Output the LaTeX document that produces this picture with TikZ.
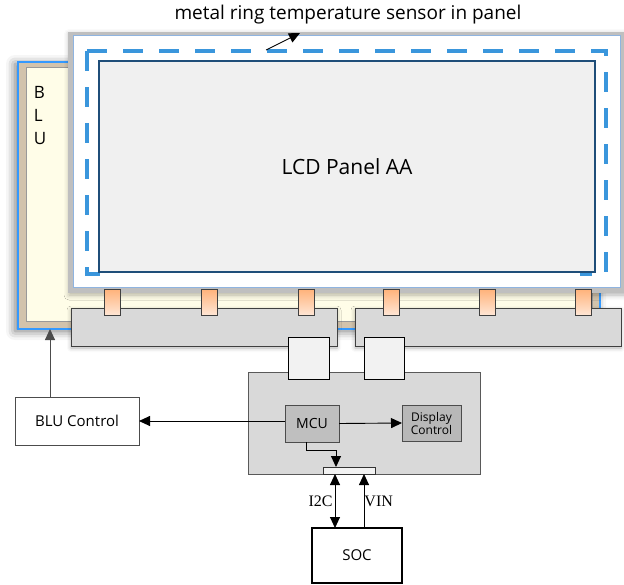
\documentclass[tikz,border=0pt]{standalone}
\usepackage{fontspec}
\setmainfont{Open Sans}
\newfontfamily\sigfont{Liberation Serif}
\usetikzlibrary{arrows.meta,positioning,shadows.blur}
\definecolor{panelgray}{HTML}{BFBFBF}
\definecolor{paneledge}{HTML}{8FB4E0}
\definecolor{ringblue}{HTML}{3A96DC}
\definecolor{navy}{HTML}{1F4E79}
\definecolor{aafill}{HTML}{F0F0F0}
\definecolor{blublue}{HTML}{3399FF}
\definecolor{blutan}{HTML}{D2C3AC}
\definecolor{blucream}{HTML}{FFFDE8}
\definecolor{bargray}{HTML}{D9D9D9}
\definecolor{bardark}{HTML}{404040}
\definecolor{pintop}{HTML}{FFB27A}
\definecolor{pinbot}{HTML}{FFE6D5}
\definecolor{sqfill}{HTML}{F2F2F2}
\definecolor{mcugray}{HTML}{BFBFBF}
\definecolor{dispgray}{HTML}{B8B8B8}

\begin{document}
\begin{tikzpicture}[x=1pt, y=-1pt,
  font=\fontsize{15}{18}\selectfont,
  plate/.style={inner sep=0pt, outer sep=0pt, anchor=north west},
  bar/.style={plate, fill=bargray, draw=bardark, line width=1pt, minimum width=266, minimum height=38},
  pin/.style={plate, draw=bardark, line width=1pt, top color=pintop, bottom color=pinbot, minimum width=16, minimum height=26},
  sock/.style={plate, fill=sqfill, draw=black, line width=1pt, minimum width=41, minimum height=42},
  blk/.style={plate, draw=black!70, line width=1pt, align=center},
  arr/.style={-{Triangle[length=11pt,width=10pt]}, line width=0.9pt},
  dbl/.style={{Triangle[length=11pt,width=10pt]}-{Triangle[length=11pt,width=10pt]}, line width=0.9pt}]
  \useasboundingbox (0,0) rectangle (624,584);
  % backlight unit
  \node[plate, draw=blublue, line width=1.5pt, fill=blutan, minimum width=582, minimum height=267,
    blur shadow={shadow xshift=-3pt, shadow yshift=-2pt, shadow blur radius=9pt, shadow opacity=55}] (blu) at (18,62) {};
  \node[plate, draw=gray!80, line width=0.8pt, fill=blucream, minimum width=566, minimum height=254] (bluin) at (26,67) {};
  \node[plate, font=\fontsize{17}{23}\selectfont, align=left] (blutxt) at (34,86) {B\\L\\U};
  % panel
  \node[plate, fill=panelgray, minimum width=556, minimum height=261,
    blur shadow={shadow xshift=1pt, shadow yshift=-2pt, shadow blur radius=5pt, shadow opacity=30}] (panel) at (68,32) {};
  \node[plate, draw=paneledge, line width=0.8pt, fill=white, minimum width=547, minimum height=252] (glass) at (73,35) {};
  \coordinate (ringnw) at (87,51);
  \coordinate (ringse) at (606,274);
  \draw[ringblue, line width=4.5pt, dash pattern=on 20pt off 16pt] (ringnw) -- (ringnw |- ringse) -- ++(28,0);
  \draw[ringblue, line width=4.5pt, dash pattern=on 20pt off 16pt] (ringnw) -- (ringnw -| ringse) -- (ringse) -- ++(-26,0);
  \node[plate, draw=navy, line width=1.5pt, fill=aafill, minimum width=496, minimum height=211,
    font=\fontsize{21}{24}\selectfont] (aa) at (99,61) {LCD Panel AA};
  \node[font=\fontsize{19}{22}\selectfont] (ringlbl) at (348,15) {metal ring temperature sensor in panel};
  \coordinate (ringpt) at (266,50);
  \coordinate (ringtip) at (300,33);
  \draw[arr] (ringpt) -- (ringtip);
  % flex boards and pins
  \node[bar, blur shadow={shadow xshift=0pt, shadow yshift=-2pt, shadow blur radius=4pt, shadow opacity=30}] (fpcl) at (71,308) {};
  \node[bar, blur shadow={shadow xshift=0pt, shadow yshift=-2pt, shadow blur radius=4pt, shadow opacity=30}] (fpcr) at (355,308) {};
  \foreach \x [count=\i] in {104,201,298,383,479,575}
    \node[pin] (pin\i) at (\x,289) {};
  % timing controller board
  \node[plate, fill=bargray, draw=black!65, line width=1pt, minimum width=232, minimum height=102] (tcon) at (248,372) {};
  \node[sock] (sockl) at (288,337) {};
  \node[sock, minimum width=40] (sockr) at (364,337) {};
  \node[blk, fill=mcugray, minimum width=54, minimum height=37, font=\fontsize{14}{16}\selectfont] (mcu) at (285,405) {MCU};
  \node[blk, fill=dispgray, minimum width=59, minimum height=36, font=\fontsize{12}{13}\selectfont] (disp) at (402,405) {Display\\Control};
  \node[plate, fill=sqfill, draw=black!80, line width=1pt, minimum width=52, minimum height=7] (port) at (323,467) {};
  \node[blk, fill=white, minimum width=124, minimum height=48] (bluctl) at (15,397) {BLU Control};
  \node[blk, draw=black, line width=1.5pt, fill=white, minimum width=90, minimum height=55, font=\fontsize{15}{17}\selectfont] (soc) at (312,528) {SOC};
  % signals
  \draw[arr, draw=black!70] ([xshift=35pt]bluctl.north west) -- ([xshift=35pt]bluctl.north west |- blu.south);
  \draw[arr] (mcu.west |- bluctl.east) -- (bluctl.east);
  \draw[arr] (mcu.east) -- (disp.west);
  \coordinate (mcubend) at (336,450);
  \draw[arr] ([xshift=-6pt]mcu.south) |- (mcubend) -- (mcubend |- port.north);
  \draw[dbl] ([xshift=12pt]port.south west) -- ([xshift=12pt]port.south west |- soc.north)
    node[midway, left, inner sep=2pt, font=\sigfont\fontsize{16}{18}\selectfont] {I2C};
  \draw[arr] ([xshift=52pt]soc.north west) -- ([xshift=52pt]soc.north west |- port.south)
    node[midway, right, inner sep=0pt, font=\sigfont\fontsize{16}{18}\selectfont] {VIN};
\end{tikzpicture}
\end{document}
